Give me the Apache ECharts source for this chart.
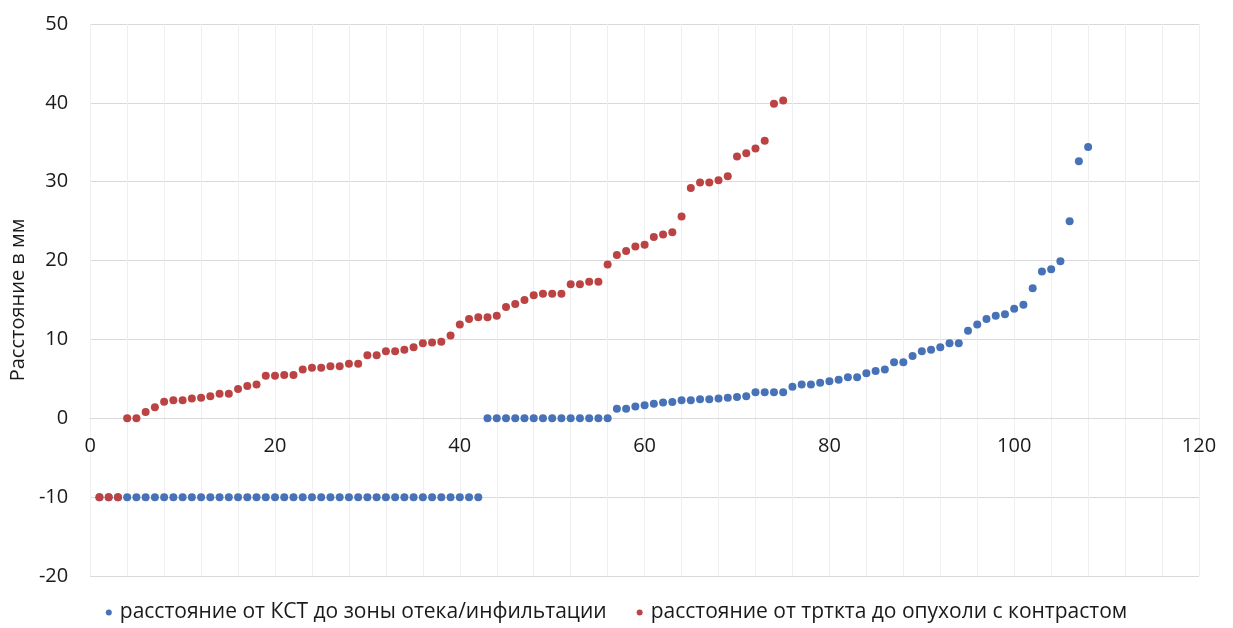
<!DOCTYPE html>
<html>
<head>
<meta charset="utf-8">
<script src="https://cdn.jsdelivr.net/npm/echarts@6/dist/echarts.min.js"></script>
<style>html,body{margin:0;padding:0;background:#fff}#c{width:1233px;height:628px}</style>
</head>
<body>
<div id="c"></div>
<script>
// Series names
var seriesNames = ['расстояние от КСТ до зоны отека/инфильтации', 'расстояние от трткта до опухоли с контрастом'];
// Blue series: values for x = 1..108
var blueValues = [
  -10,-10,-10,-10,-10,-10,-10,-10,-10,-10,
  -10,-10,-10,-10,-10,-10,-10,-10,-10,-10,
  -10,-10,-10,-10,-10,-10,-10,-10,-10,-10,
  -10,-10,-10,-10,-10,-10,-10,-10,-10,-10,
  -10,-10,
  0,0,0,0,0,0,0,0,0,0,0,0,0,0,
  1.2,1.2,1.5,1.65,1.85,2.0,2.05,2.3,2.3,2.4,
  2.4,2.5,2.6,2.7,2.8,3.3,3.3,3.3,3.3,4.0,
  4.3,4.3,4.5,4.7,4.9,5.2,5.2,5.7,6.0,6.2,
  7.1,7.1,7.9,8.5,8.7,9.0,9.5,9.5,11.1,11.9,
  12.6,13.0,13.2,13.9,14.4,16.5,18.6,18.9,19.9,25.0,
  32.6,34.4
];
// Red series: values for x = 1..75
var redValues = [
  -10,-10,-10,
  0,0,0.8,1.4,2.1,2.3,2.3,2.5,2.6,2.8,3.1,3.1,3.7,4.1,4.3,5.4,5.4,5.5,5.5,
  6.2,6.4,6.4,6.6,6.6,6.9,6.9,8.0,8.0,8.5,8.5,8.7,9.0,9.5,9.6,9.7,10.5,11.9,
  12.6,12.8,12.8,13.0,14.1,14.5,15.0,15.6,15.8,15.8,15.8,17.0,17.0,17.3,17.3,19.5,
  20.7,21.2,21.8,22.0,23.0,23.3,23.6,25.6,29.2,29.9,29.9,30.2,30.7,33.2,33.6,34.2,
  35.2,39.9,40.3
];
var xTicks = [0, 20, 40, 60, 80, 100, 120];
var yTicks = [-20, -10, 0, 10, 20, 30, 40, 50];
var yTitle = 'Расстояние в мм';

function toPairs(vals){ return vals.map(function(v,i){ return [i+1, v]; }); }

var font = '"Open Sans", "Noto Sans", sans-serif';
var chart = echarts.init(document.getElementById('c'), null, {renderer:'canvas'});
chart.setOption({
  animation: false,
  backgroundColor: '#ffffff',
  grid: { left: 89, right: 34, top: 24, bottom: 52, containLabel: false },
  legend: {
    bottom: 0, left: 'center',
    icon: 'circle', itemWidth: 6, itemHeight: 6, itemGap: 30,
    textStyle: { fontFamily: font, fontSize: 21, color: '#1a1a1a', padding: [0, 0, 0, 3] },
    data: seriesNames
  },
  xAxis: {
    type: 'value', position: 'bottom', offset: 0,
    min: xTicks[0], max: xTicks[xTicks.length-1], interval: 20,
    axisLine: { onZero: false, lineStyle: { color: '#d9d9d9', width: 1.2 } },
    axisTick: { show: false },
    axisLabel: { fontFamily: font, fontSize: 20, color: '#1a1a1a', margin: 18 },
    splitLine: { show: true, lineStyle: { color: '#efefef', width: 1 } },
    minorTick: { show: false, splitNumber: 5 },
    minorSplitLine: { show: true, lineStyle: { color: '#efefef', width: 1 } }
  },
  yAxis: {
    type: 'value', min: yTicks[0], max: yTicks[yTicks.length-1], interval: 10,
    name: yTitle, nameLocation: 'middle', nameGap: 57, nameRotate: 90,
    nameTextStyle: { fontFamily: font, fontSize: 20, color: '#1a1a1a' },
    axisLine: { show: false, onZero: false },
    axisTick: { show: false },
    axisLabel: { fontFamily: font, fontSize: 20, color: '#1a1a1a', margin: 22 },
    splitLine: { show: true, lineStyle: { color: '#d9d9d9', width: 1.2 } }
  },
  series: [
    { name: seriesNames[0], type: 'scatter', symbol: 'circle', symbolSize: 8,
      itemStyle: { color: '#4772b8', opacity: 1 }, data: toPairs(blueValues) },
    { name: seriesNames[1], type: 'scatter', symbol: 'circle', symbolSize: 8,
      itemStyle: { color: '#bc4343', opacity: 1 }, data: toPairs(redValues) }
  ]
});
// Move the x axis (line + labels) up so it crosses the y axis at zero, as in the original
var zeroPx = chart.convertToPixel({ yAxisIndex: 0 }, 0);
var bottomPx = chart.convertToPixel({ yAxisIndex: 0 }, yTicks[0]);
chart.setOption({ xAxis: { offset: zeroPx - bottomPx } });
</script>
</body>
</html>
